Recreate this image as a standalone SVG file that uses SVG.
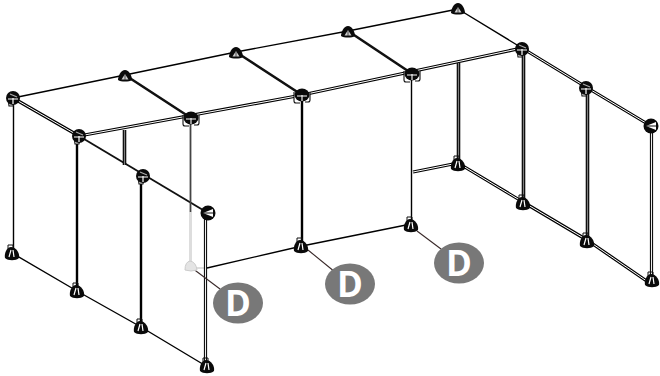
<svg xmlns="http://www.w3.org/2000/svg" width="660" height="376" viewBox="0 0 660 376">
<style>
.t{stroke:#000;stroke-width:1.4;fill:none}
.m{stroke:#000;stroke-width:2.4;fill:none}
.n{stroke:#111;stroke-width:1.9;fill:none}
.dk{stroke:#111;stroke-width:2.6;fill:none}
.do{stroke:#000;stroke-width:3.2;fill:none}
.di{stroke:#fff;stroke-width:1;fill:none}
.v{stroke:#111;stroke-width:3.6;fill:none}
.vi{stroke:#999;stroke-width:.8;fill:none}
.r{stroke:#111;stroke-width:3.2;fill:none}
.ri{stroke:#eee;stroke-width:1;fill:none}
.g{stroke:#444;stroke-width:1.8;fill:none}
.le{stroke:#3a2a2a;stroke-width:1.1;fill:none}
.ghost{stroke:#ddd;stroke-width:3;fill:none}
.ghost2{stroke:#ddd;stroke-width:2;fill:none}
.b{fill:#787878}
.l{font-family:"Open Sans","Liberation Sans",sans-serif;font-weight:700;font-size:35px;fill:#fff;text-anchor:middle}
</style>
<defs>
<g id="top"><path d="M-7 4C-7 0-4-6 0-6C4-6 7 0 7 4C4 6-4 6-7 4Z" fill="#0a0a0a"/><path d="M-3.500 3.500L0-2 3.500 3.500Z" fill="#ccc"/><path d="M0-2V4" stroke="#333" stroke-width=".8"/></g>
<g id="hub"><path d="M-5 0L-4 8H0L1 3" fill="#fff" stroke="#111" stroke-width="1.100"/><circle r="7" fill="#0a0a0a"/><path d="M-5 1H5M0 0V6" stroke="#fff" stroke-width="1.200"/><path d="M-3-4L4-1" stroke="#aaa" stroke-width="1.200"/></g>
<g id="hubw"><path d="M-8-3V6Q-8 8-6 8H-2M8-3V5Q8 7 6 7H3" fill="#fff" stroke="#111" stroke-width="1.100"/><ellipse rx="7.500" ry="6.500" fill="#0a0a0a"/><path d="M-5 1H5M0 0V6" stroke="#fff" stroke-width="1.100"/></g>
<g id="side"><circle r="7.500" fill="#0a0a0a"/><path d="M-5 0L5-4V4Z" fill="#fff"/><path d="M-5 0H5" stroke="#111"/></g>
<g id="foot"><path d="M-7 5C-8 0-5-6-1-6C4-6 8 0 7 5C4 8-4 8-7 5Z" fill="#0a0a0a"/><path d="M-3 4L-1-3M2 4L1-3" stroke="#fff" stroke-width="1.200"/><path d="M-4-2V-8H1V-5" fill="none" stroke="#111" stroke-width="1"/></g>
</defs>
<g id="connectors">
<path class="ghost" d="M190.500 212V262"/>
<path class="ghost2" d="M194 268H206"/>
<path class="t" d="M13 98L125 75M125 75L236 52M236 52L348 31M348 31L458 9M458 9L522 48"/>
<path class="dk" d="M125 75L191 118M236 52L302 95M348 31L411 73"/>
<path class="do" d="M13 98L79 136M79 136L302 95M302 95L522 48M522 48L586 87M586 87L651 126"/>
<path class="di" d="M13 98L79 136M79 136L302 95M302 95L522 48M522 48L586 87M586 87L651 126"/>
<path class="n" d="M79 136L208 213"/>
<path class="t" d="M13.500 100V253M411.500 78V224"/>
<path class="m" d="M77 140V291M141 178V327M302 100V246"/>
<path class="v" d="M124.500 130V165M458.500 63V160M523.500 53V202M587.500 92V240"/>
<path class="vi" d="M124.500 130V165M458.500 63V160M523.500 53V202M587.500 92V240"/>
<path class="g" d="M190.500 122V212"/>
<path class="r" d="M205.500 217V362M651.500 130V280"/>
<path class="ri" d="M205.500 217V362M651.500 130V280"/>
<path class="t" d="M12 253L77 291M77 291L141 327M141 327L206 366M207 268L302 246M302 246L411 224"/>
<path class="do" d="M458 163L523 202M523 202L587 240M587 240L651 284M413 172L458 163"/>
<path class="di" d="M458 163L523 202M523 202L587 240M587 240L651 284M413 172L458 163"/>
<path class="le" d="M192 268L220 289M308 250L335 272M417 231L441 249"/>
</g>
<g id="node-t1"><use href="#hub" x="13" y="98"/></g>
<g id="node-t2"><use href="#top" x="125" y="76"/></g>
<g id="node-t3"><use href="#top" x="236" y="53"/></g>
<g id="node-t4"><use href="#top" x="348" y="32"/></g>
<g id="node-t5"><use href="#top" x="458" y="9"/></g>
<g id="node-m1"><use href="#hub" x="79" y="136"/></g>
<g id="node-m2"><use href="#hubw" x="191" y="118"/></g>
<g id="node-m3"><use href="#hubw" x="302" y="95"/></g>
<g id="node-m4"><use href="#hubw" x="412" y="74"/></g>
<g id="node-m5"><use href="#hub" x="522" y="49"/></g>
<g id="node-m6"><use href="#hub" x="586" y="88"/></g>
<g id="node-m7"><use href="#hub" x="143" y="176"/></g>
<g id="node-e1"><use href="#side" x="208" y="213"/></g>
<g id="node-e2"><use href="#side" x="651" y="126"/></g>
<g id="node-f1"><use href="#foot" x="12" y="253"/></g>
<g id="node-f2"><use href="#foot" x="77" y="291"/></g>
<g id="node-f3"><use href="#foot" x="141" y="327"/></g>
<g id="node-f4"><use href="#foot" x="207" y="366"/></g>
<g id="node-f5"><path d="M185 270Q185 262 190 261Q196 262 197 270Q191 272 185 270Z" fill="#e4e4e4" stroke="#ccc"/></g>
<g id="node-f6"><use href="#foot" x="301" y="246"/></g>
<g id="node-f7"><use href="#foot" x="411" y="225"/></g>
<g id="node-f8"><use href="#foot" x="458" y="164"/></g>
<g id="node-f9"><use href="#foot" x="523" y="203"/></g>
<g id="node-f10"><use href="#foot" x="587" y="241"/></g>
<g id="node-f11"><use href="#foot" x="652" y="280"/></g>
<g id="label-d1"><ellipse class="b" cx="238" cy="303" rx="25" ry="20.500"/><text class="l" x="238" y="316">D</text></g>
<g id="label-d2"><ellipse class="b" cx="350" cy="284" rx="25" ry="20.500"/><text class="l" x="350" y="297">D</text></g>
<g id="label-d3"><ellipse class="b" cx="459" cy="263" rx="25" ry="20.500"/><text class="l" x="459" y="276">D</text></g>
</svg>
